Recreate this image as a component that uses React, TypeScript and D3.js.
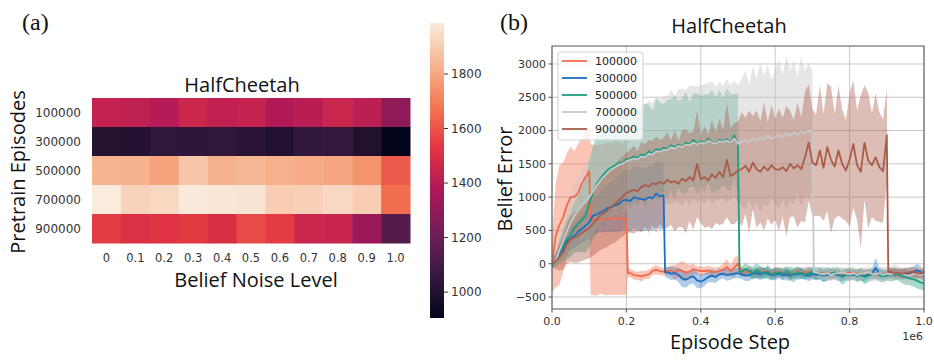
import React from 'react';
import * as d3 from 'd3';

// ---------- Heatmap data (panel a) ----------
const noiseLevels = ['0', '0.1', '0.2', '0.3', '0.4', '0.5', '0.6', '0.7', '0.8', '0.9', '1.0'];
const pretrainEpisodes = ['100000', '300000', '500000', '700000', '900000'];
const heat100000 = [1437, 1423, 1392, 1459, 1425, 1437, 1384, 1402, 1452, 1411, 1290];
const heat300000 = [1010, 1008, 1042, 1036, 1048, 1030, 1001, 1046, 1053, 995, 905];
const heat500000 = [1832, 1828, 1787, 1883, 1828, 1843, 1822, 1808, 1797, 1752, 1613];
const heat700000 = [1987, 1917, 1933, 1985, 1976, 1970, 1903, 1910, 1935, 1903, 1661];
const heat900000 = [1541, 1508, 1518, 1537, 1500, 1578, 1540, 1449, 1445, 1322, 1142];
const heatRows = [heat100000, heat300000, heat500000, heat700000, heat900000];
const colorbarTicks = [1000, 1200, 1400, 1600, 1800];
const rocketStops = ['#03051a', '#35193e', '#701f57', '#ad1759', '#e13342', '#f37651', '#f6b48f', '#faebdd'];

// ---------- Line data (panel b) ----------
const seriesNames = ['100000', '300000', '500000', '700000', '900000'];
const seriesColors = ['#f26b4a', '#1a6fc2', '#1b9e7f', '#c8c8c8', '#a95c48'];
const bandOpacity = [0.4, 0.35, 0.38, 0.45, 0.4];
const stepUnit = 10000; // index i -> i * 10000 steps
const xTicks = [0, 200000, 400000, 600000, 800000, 1000000];
const yTicks = [-500, 0, 500, 1000, 1500, 2000, 2500, 3000];

const mean100000 = [
  0, 420, 580, 700, 880, 1000, 1000, 1060, 1200, 1300, 1390,
  660, 650, 670, 660, 680, 670, 690, 680, 670, 690,
  -140, -170, -180, -190, -170, -160, -110, -90, -110, -120,
  -110, -100, -140, -90, -110, -130, -120, -80, -100, -110,
  -110, -100, -130, -120, -110, -90, -50, -110, -60, 0,
  -120, -130, -110, -150, -140, -120, -130, -110, -150, -130,
  -120, -140, -130, -160, -150, -110, -140, -130, -120, -150,
  -160, -140, -150, -130, -170, -150, -140, -160, -150, -130,
  -140, -150, -160, -130, -150, -140, -170, -150, -160, -140,
  -150, -140, -160, -150, -130, -170, -150, -160, -150, -170,
];
const spread100000 = [
  420, 780, 900, 820, 780, 760, 690, 740, 700, 680, 680,
  1130, 1130, 1120, 1130, 1150, 1140, 1160, 1150, 1140, 1160,
  60, 70, 60, 80, 60, 70, 60, 70, 60, 60,
  60, 80, 120, 100, 150, 130, 100, 80, 60, 70,
  60, 70, 80, 60, 70, 90, 120, 80, 150, 120,
  70, 60, 80, 60, 70, 90, 60, 70, 60, 80,
  70, 60, 70, 80, 60, 70, 60, 80, 70, 60,
  70, 80, 60, 70, 90, 60, 70, 60, 80, 70,
  60, 70, 80, 60, 70, 60, 80, 70, 60, 70,
  80, 60, 70, 60, 80, 70, 60, 70, 80, 60,
];
const mean300000 = [
  -20, 80, 150, 230, 330, 380, 420, 480, 520, 570, 620,
  720, 740, 770, 800, 840, 850, 880, 900, 950, 960,
  940, 1000, 980, 970, 960, 1000, 980, 1050, 1010, 1030,
  -130, -150, -140, -170, -220, -240, -210, -190, -250, -270,
  -240, -200, -180, -200, -160, -150, -170, -160, -150, -140,
  -160, -180, -170, -150, -140, -160, -130, -150, -170, -160,
  -150, -170, -160, -180, -150, -160, -140, -170, -180, -150,
  -170, -160, -180, -170, -150, -160, -170, -190, -160, -170,
  -160, -180, -170, -190, -160, -150, -60, -150, -160, -170,
  -140, -160, -150, -170, -160, -140, -130, -100, -120, -180,
];
const spread300000 = [
  40, 100, 120, 140, 160, 170, 180, 200, 200, 220, 230,
  250, 280, 300, 330, 360, 380, 400, 420, 440, 450,
  460, 470, 480, 480, 470, 480, 490, 500, 500, 510,
  80, 100, 90, 110, 130, 120, 100, 110, 120, 100,
  90, 80, 100, 90, 80, 70, 90, 80, 70, 80,
  70, 80, 90, 70, 80, 90, 80, 70, 80, 90,
  70, 80, 90, 80, 70, 80, 90, 70, 80, 90,
  70, 80, 90, 80, 70, 80, 90, 70, 80, 90,
  70, 80, 90, 80, 70, 80, 150, 90, 80, 70,
  80, 90, 80, 70, 80, 90, 80, 100, 90, 80,
];
const mean500000 = [
  -20, 50, 180, 280, 370, 430, 540, 600, 660, 720, 900,
  1060, 1200, 1280, 1350, 1410, 1450, 1480, 1520, 1510, 1570,
  1580, 1610, 1590, 1640, 1620, 1690, 1660, 1720, 1700, 1740,
  1720, 1780, 1750, 1790, 1760, 1820, 1790, 1860, 1800, 1840,
  1810, 1880, 1830, 1800, 1860, 1840, 1870, 1820, 1930, 1780,
  -120, -80, -110, -140, -100, -130, -150, -120, -160, -140,
  -130, -150, -120, -140, -170, -130, -150, -160, -140, -130,
  -150, -140, -170, -160, -150, -130, -150, -200, -170, -150,
  -160, -180, -150, -200, -180, -160, -150, -170, -190, -180,
  -170, -150, -160, -180, -200, -220, -230, -250, -280, -300,
];
const spread500000 = [
  40, 100, 180, 250, 300, 330, 380, 420, 480, 550, 650,
  680, 760, 650, 800, 690, 740, 620, 780, 700, 660,
  760, 690, 730, 650, 790, 700, 640, 760, 720, 660,
  740, 690, 780, 650, 720, 760, 640, 700, 760, 680,
  730, 660, 780, 700, 740, 650, 760, 720, 620, 780,
  70, 90, 80, 100, 110, 90, 80, 100, 90, 80,
  70, 90, 80, 100, 110, 90, 80, 70, 90, 80,
  100, 90, 110, 100, 90, 80, 90, 120, 100, 90,
  80, 100, 90, 110, 100, 90, 80, 100, 90, 80,
  90, 100, 90, 110, 120, 100, 110, 120, 110, 100,
];
const mean700000 = [
  0, 60, 200, 340, 480, 620, 720, 800, 870, 930, 1000,
  1080, 1170, 1250, 1310, 1370, 1420, 1450, 1490, 1500, 1540,
  1560, 1580, 1570, 1610, 1600, 1650, 1640, 1690, 1680, 1710,
  1710, 1750, 1730, 1770, 1750, 1790, 1780, 1820, 1790, 1820,
  1800, 1850, 1820, 1800, 1840, 1830, 1850, 1820, 1880, 1800,
  1830, 1860, 1820, 1880, 1850, 1900, 1860, 1920, 1880, 1900,
  1940, 1900, 1960, 1920, 1980, 1930, 1990, 1960, 2000, 1990,
  -130, -150, -160, -140, -170, -150, -140, -130, -150, -160,
  -140, -170, -150, -140, -130, -150, -160, -140, -170, -150,
  -160, -140, -130, -150, -170, -180, -160, -150, -170, -160,
];
const spread700000 = [
  40, 100, 200, 300, 350, 400, 450, 500, 520, 560, 600,
  620, 660, 640, 700, 680, 720, 700, 750, 720, 760,
  740, 790, 760, 810, 780, 800, 770, 830, 790, 820,
  800, 860, 790, 850, 880, 820, 900, 840, 880, 850,
  900, 860, 920, 850, 880, 840, 930, 860, 870, 880,
  950, 1050, 860, 1080, 920, 1120, 960, 1060, 880, 1020,
  1120, 930, 1160, 980, 1090, 880, 1130, 940, 1010, 900,
  70, 80, 90, 100, 80, 90, 100, 80, 90, 100,
  110, 90, 100, 80, 90, 110, 100, 90, 120, 100,
  110, 130, 100, 90, 110, 120, 100, 110, 100, 90,
];
const mean900000 = [
  0, 40, 100, 170, 300, 370, 390, 420, 460, 500, 540,
  600, 660, 730, 760, 810, 860, 900, 960, 1010, 1060,
  1090, 1110, 1090, 1150, 1180, 1160, 1210, 1190, 1230, 1200,
  1260, 1220, 1240, 1200, 1280, 1240, 1300, 1250, 1500, 1270,
  1300, 1250, 1340, 1290, 1380, 1300, 1560, 1320, 1350, 1400,
  1420, 1470, 1380, 1520, 1420, 1380, 1460, 1400, 1480, 1420,
  1410, 1450, 1390, 1500, 1430, 1480, 1420, 1600, 1820, 1520,
  1480, 1700, 1440, 1750, 1560, 1460, 1700, 1500, 1400, 1560,
  1800, 1480, 1380, 1820, 1550, 1480, 1600, 1450, 1390, 1930,
  -120, -140, -130, -150, -140, -130, -120, -140, -150, -120,
];
const spread900000 = [
  60, 120, 200, 260, 300, 340, 380, 400, 420, 440, 460,
  480, 500, 520, 530, 550, 560, 580, 590, 600, 610,
  620, 660, 600, 680, 620, 700, 640, 720, 630, 690,
  720, 640, 760, 650, 730, 780, 660, 740, 800, 660,
  760, 690, 820, 680, 800, 700, 860, 720, 760, 740,
  860, 720, 920, 700, 880, 760, 960, 720, 900, 760,
  920, 740, 980, 800, 720, 940, 780, 980, 880, 800,
  760, 980, 800, 960, 1100, 780, 980, 820, 760, 1000,
  960, 820, 1150, 860, 1020, 780, 960, 820, 780, 700,
  60, 70, 60, 80, 70, 60, 70, 80, 60, 70,
];
const seriesMeans = [mean100000, mean300000, mean500000, mean700000, mean900000];
const seriesSpreads = [spread100000, spread300000, spread500000, spread700000, spread900000];
const dropIndices = [[10, 20], [30], [50], [70], [90]];

type Pt = { x: number; m: number; s: number };

function buildPoints(k: number): Pt[] {
  const mean = seriesMeans[k];
  const sp = seriesSpreads[k];
  const pts: Pt[] = [];
  for (let i = 0; i < mean.length; i++) {
    pts.push({ x: i * stepUnit, m: mean[i], s: sp[i] });
    if (dropIndices[k].includes(i) && i + 1 < mean.length) {
      pts.push({ x: i * stepUnit + 0.4 * stepUnit, m: mean[i + 1], s: sp[i + 1] });
    }
  }
  return pts;
}

const SANS = 'Open Sans, Noto Sans, sans-serif';
const TICKF = 'DejaVu Sans, sans-serif';
const SERIF = 'Liberation Serif, Times New Roman, serif';

export default function App() {
  // ----- heatmap -----
  const hx = d3.scaleBand<string>().domain(noiseLevels).range([92, 410]);
  const hy = d3.scaleBand<string>().domain(pretrainEpisodes).range([98, 243]);
  const all = heatRows.flat();
  const ext = d3.extent(all) as [number, number];
  const color = d3.scaleSequential(d3.piecewise(d3.interpolateRgb, rocketStops)).domain(ext);
  const cb = d3.scaleLinear().domain(ext).range([318, 23]);

  // ----- line chart -----
  const X0 = 552, X1 = 924, Y0 = 46, Y1 = 309;
  const x = d3.scaleLinear().domain([0, 1000000]).range([X0, X1]);
  const y = d3.scaleLinear().domain([-680, 3270]).range([Y1, Y0]);
  const series = seriesNames.map((_, k) => buildPoints(k));
  const area = d3.area<Pt>().x(d => x(d.x)).y0(d => y(d.m - d.s)).y1(d => y(d.m + d.s));
  const line = d3.line<Pt>().x(d => x(d.x)).y(d => y(d.m));

  return (
    <svg width={934} height={360} style={{ position: 'absolute', left: 0, top: 0, background: '#fff' }}>
      <defs>
        <linearGradient id="cbgrad" x1="0" y1="1" x2="0" y2="0">
          {rocketStops.map((c, i) => (
            <stop key={i} offset={i / (rocketStops.length - 1)} stopColor={c} />
          ))}
        </linearGradient>
        <clipPath id="plotclip">
          <rect x={X0} y={Y0} width={X1 - X0} height={Y1 - Y0} />
        </clipPath>
      </defs>
      <rect x={0} y={0} width={934} height={360} fill="#fff" />

      {/* ===== Panel (a) ===== */}
      <text x={22} y={30} fontFamily={SERIF} fontSize={24} fill="#111">(a)</text>
      {heatRows.map((row, r) =>
        row.map((v, c) => (
          <rect key={`${r}-${c}`} x={hx(noiseLevels[c])} y={hy(pretrainEpisodes[r])}
            width={hx.bandwidth() + 0.5} height={hy.bandwidth() + 0.5} fill={color(v)} />
        ))
      )}
      <text x={242} y={92} textAnchor="middle" fontFamily={SANS} fontSize={20} fill="#111">HalfCheetah</text>
      {pretrainEpisodes.map(p => (
        <text key={p} x={81} y={(hy(p) as number) + hy.bandwidth() / 2} dy="0.35em" textAnchor="end"
          fontFamily={TICKF} fontSize={12} fill="#333">{p}</text>
      ))}
      {noiseLevels.map(n => (
        <text key={n} x={(hx(n) as number) + hx.bandwidth() / 2} y={262} textAnchor="middle"
          fontFamily={TICKF} fontSize={11.5} fill="#333">{n}</text>
      ))}
      <text x={256} y={287} textAnchor="middle" fontFamily={SANS} fontSize={20} fill="#111">Belief Noise Level</text>
      <text transform="translate(25,172) rotate(-90)" textAnchor="middle" fontFamily={SANS} fontSize={20} fill="#111">Pretrain Episodes</text>

      {/* colorbar */}
      <rect x={430} y={23} width={14} height={295} fill="url(#cbgrad)" />
      {colorbarTicks.map(t => (
        <g key={t}>
          <line x1={444} x2={448} y1={cb(t)} y2={cb(t)} stroke="#333" strokeWidth={1} />
          <text x={451} y={cb(t)} dy="0.35em" fontFamily={TICKF} fontSize={12} fill="#333">{t}</text>
        </g>
      ))}

      {/* ===== Panel (b) ===== */}
      <text x={500} y={30} fontFamily={SERIF} fontSize={24} fill="#111">(b)</text>
      <text x={729} y={33} textAnchor="middle" fontFamily={SANS} fontSize={20} fill="#111">HalfCheetah</text>
      {xTicks.map(t => (
        <line key={'gx' + t} x1={x(t)} x2={x(t)} y1={Y0} y2={Y1} stroke="#c8c8c8" strokeWidth={1} />
      ))}
      {yTicks.map(t => (
        <line key={'gy' + t} x1={X0} x2={X1} y1={y(t)} y2={y(t)} stroke="#c8c8c8" strokeWidth={1} />
      ))}
      <g clipPath="url(#plotclip)">
        {series.map((pts, k) => (
          <path key={'a' + k} d={area(pts) || ''} fill={seriesColors[k]} fillOpacity={bandOpacity[k]} stroke="none" />
        ))}
        {series.map((pts, k) => (
          <path key={'l' + k} d={line(pts) || ''} fill="none" stroke={seriesColors[k]} strokeWidth={1.8} strokeLinejoin="round" />
        ))}
      </g>
      <rect x={X0} y={Y0} width={X1 - X0} height={Y1 - Y0} fill="none" stroke="#555" strokeWidth={1} />
      {xTicks.map(t => (
        <g key={'tx' + t}>
          <line x1={x(t)} x2={x(t)} y1={Y1} y2={Y1 + 3.5} stroke="#555" />
          <text x={x(t)} y={325} textAnchor="middle" fontFamily={TICKF} fontSize={11} fill="#333">{(t / 1e6).toFixed(1)}</text>
        </g>
      ))}
      {yTicks.map(t => (
        <g key={'ty' + t}>
          <line x1={X0 - 3.5} x2={X0} y1={y(t)} y2={y(t)} stroke="#555" />
          <text x={X0 - 6} y={y(t)} dy="0.35em" textAnchor="end" fontFamily={TICKF} fontSize={11} fill="#333">{d3.format('d')(t)}</text>
        </g>
      ))}
      <text x={923} y={340} textAnchor="end" fontFamily={TICKF} fontSize={11} fill="#333">1e6</text>
      <text x={730} y={349} textAnchor="middle" fontFamily={SANS} fontSize={20} fill="#111">Episode Step</text>
      <text transform="translate(512,179) rotate(-90)" textAnchor="middle" fontFamily={SANS} fontSize={20} fill="#111">Belief Error</text>

      {/* legend */}
      <rect x={558} y={52} width={85} height={88} rx={3} fill="#fff" fillOpacity={0.8} stroke="#d0d0d0" />
      {seriesNames.map((n, k) => (
        <g key={'lg' + n}>
          <line x1={562} x2={587} y1={61 + k * 17} y2={61 + k * 17} stroke={seriesColors[k]} strokeWidth={1.8} />
          <text x={595} y={61 + k * 17} dy="0.35em" fontFamily={TICKF} fontSize={11} fill="#222">{n}</text>
        </g>
      ))}
    </svg>
  );
}
